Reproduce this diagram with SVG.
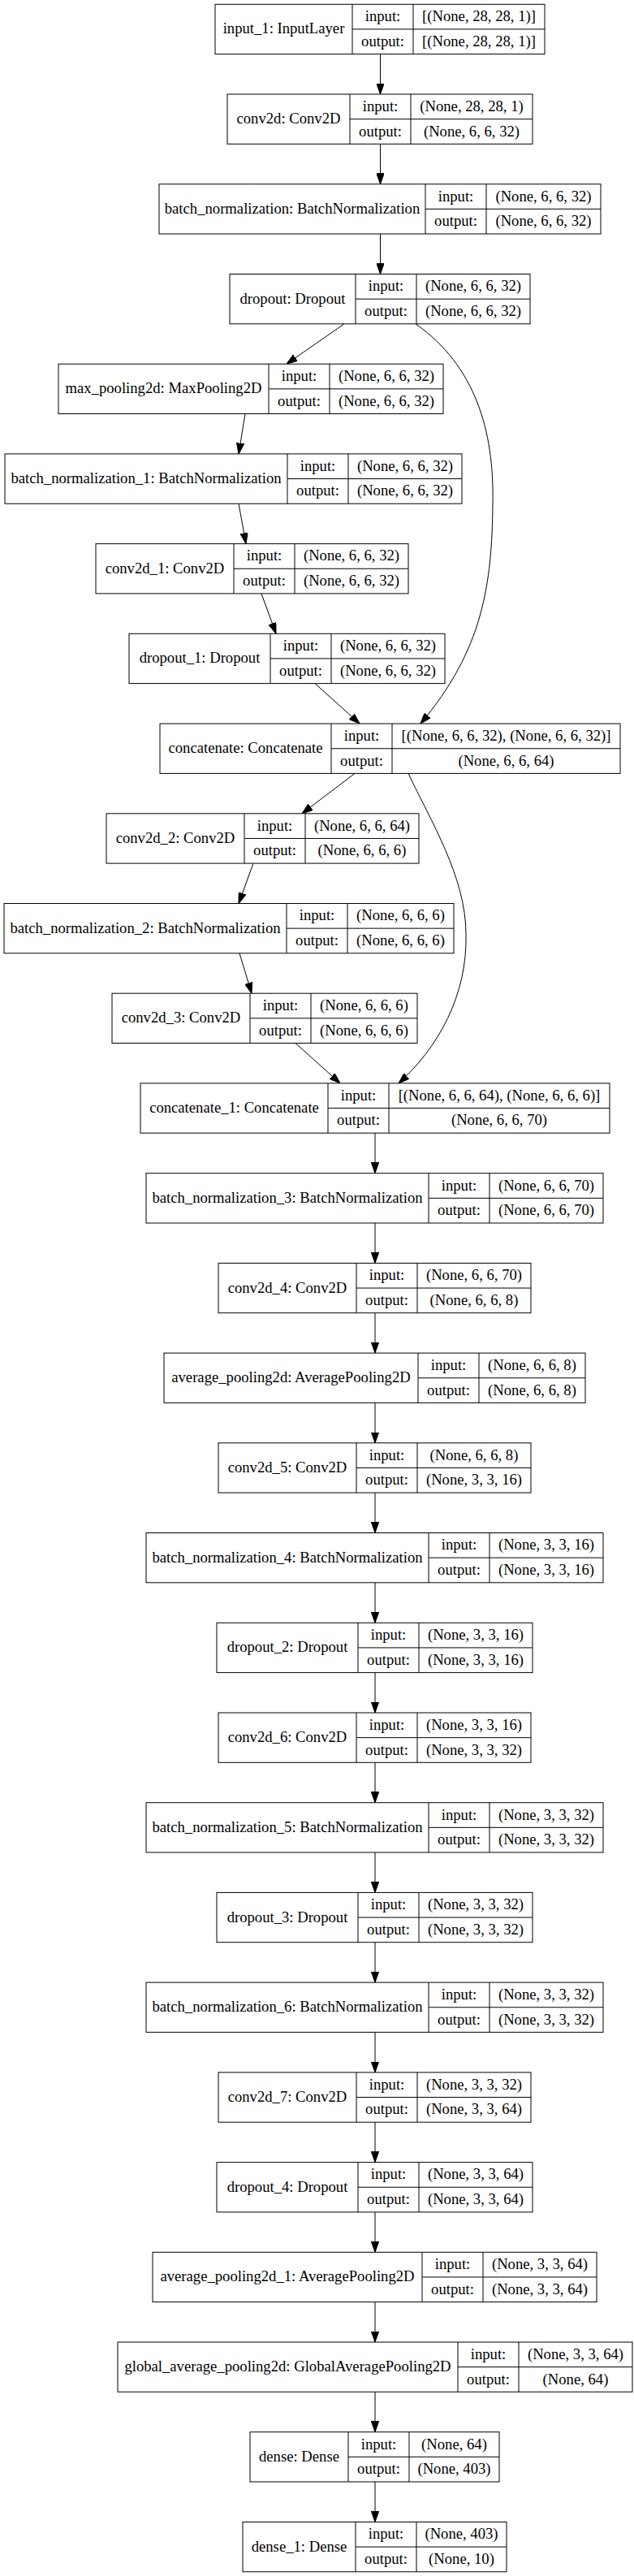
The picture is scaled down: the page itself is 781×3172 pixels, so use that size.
<svg xmlns="http://www.w3.org/2000/svg" width="781" height="3172" viewBox="0 0 781 3172">
<style>
.bg{fill:#fff}
.node rect{fill:#fff;stroke:#000;stroke-width:1}
.node path{fill:none;stroke:#000;stroke-width:1}
text{font-family:"Liberation Serif","Times New Roman",serif;font-size:18.67px;text-anchor:middle;fill:#000}
.edges path{fill:none;stroke:#000;stroke-width:1;marker-end:url(#ah)}
</style>
<defs>
<marker id="ah" viewBox="0 0 13.3 9.34" markerWidth="13.3" markerHeight="9.34" refX="13.3" refY="4.67" orient="auto" markerUnits="userSpaceOnUse">
<path d="M0,0 L13.3,4.67 L0,9.34 Z" fill="#000" stroke="#000" stroke-width="1"/>
</marker>
</defs>
<rect class="bg" x="0" y="0" width="781" height="3172"/>

<g class="edges" id="edges">
<path d="M468.5,66.6 V116"/>
<path d="M468.5,177.3 V226.7"/>
<path d="M468.5,288 V337.5"/>
<path d="M424,398.8 L353,448.2"/>
<path d="M302,509.5 L294,558.9"/>
<path d="M294,620.2 L303,669.6"/>
<path d="M322,730.9 L340,780.3"/>
<path d="M388,841.6 L443,891.1"/>
<path d="M512,398.8 C585,450 609,530 607,620 C606,720 595,800 518,891.1"/>
<path d="M437,952.4 L372,1001.8"/>
<path d="M312,1063.1 L294,1112.5"/>
<path d="M295,1173.8 L310,1223.2"/>
<path d="M364,1284.5 L419,1333.9"/>
<path d="M503,952.4 C530,1010 574,1080 574,1150 C576,1225 540,1290 491,1333.9"/>
<path d="M462,1395.2 V1444.7"/>
<path d="M462,1506 V1555.4"/>
<path d="M462,1616.7 V1666.1"/>
<path d="M462,1727.4 V1776.8"/>
<path d="M462,1838.1 V1887.5"/>
<path d="M462,1948.8 V1998.3"/>
<path d="M462,2059.6 V2109"/>
<path d="M462,2170.3 V2219.7"/>
<path d="M462,2281 V2330.4"/>
<path d="M462,2391.7 V2441.1"/>
<path d="M462,2502.4 V2551.9"/>
<path d="M462,2613.2 V2662.6"/>
<path d="M462,2723.9 V2773.3"/>
<path d="M462,2834.6 V2884"/>
<path d="M462,2945.3 V2994.7"/>
<path d="M462,3056 V3105.5"/>
</g>

<g class="node" id="input_1">
<rect x="265" y="5.3" width="406" height="61.3"/>
<path d="M434,5.3 V66.6 M509,5.3 V66.6 M434,35.95 H671"/>
<text x="349.5" y="41.45">input_1: InputLayer</text>
<text x="471.5" y="26.1">input:</text><text x="590" y="26.1">[(None, 28, 28, 1)]</text>
<text x="471.5" y="56.8">output:</text><text x="590" y="56.8">[(None, 28, 28, 1)]</text>
</g>

<g class="node" id="conv2d">
<rect x="280" y="116" width="376" height="61.3"/>
<path d="M431,116 V177.3 M506,116 V177.3 M431,146.65 H656"/>
<text x="355.5" y="152.15">conv2d: Conv2D</text>
<text x="468.5" y="136.8">input:</text><text x="581" y="136.8">(None, 28, 28, 1)</text>
<text x="468.5" y="167.5">output:</text><text x="581" y="167.5">(None, 6, 6, 32)</text>
</g>

<g class="node" id="batch_normalization">
<rect x="196" y="226.7" width="544" height="61.3"/>
<path d="M524,226.7 V288 M599,226.7 V288 M524,257.35 H740"/>
<text x="360" y="262.85">batch_normalization: BatchNormalization</text>
<text x="561.5" y="247.5">input:</text><text x="669.5" y="247.5">(None, 6, 6, 32)</text>
<text x="561.5" y="278.2">output:</text><text x="669.5" y="278.2">(None, 6, 6, 32)</text>
</g>

<g class="node" id="dropout">
<rect x="283" y="337.5" width="370" height="61.3"/>
<path d="M438,337.5 V398.8 M513,337.5 V398.8 M438,368.15 H653"/>
<text x="360.5" y="373.65">dropout: Dropout</text>
<text x="475.5" y="358.3">input:</text><text x="583" y="358.3">(None, 6, 6, 32)</text>
<text x="475.5" y="389">output:</text><text x="583" y="389">(None, 6, 6, 32)</text>
</g>

<g class="node" id="max_pooling2d">
<rect x="72" y="448.2" width="474" height="61.3"/>
<path d="M331,448.2 V509.5 M406,448.2 V509.5 M331,478.85 H546"/>
<text x="201.5" y="484.35">max_pooling2d: MaxPooling2D</text>
<text x="368.5" y="469">input:</text><text x="476" y="469">(None, 6, 6, 32)</text>
<text x="368.5" y="499.7">output:</text><text x="476" y="499.7">(None, 6, 6, 32)</text>
</g>

<g class="node" id="batch_normalization_1">
<rect x="6" y="558.9" width="563" height="61.3"/>
<path d="M354,558.9 V620.2 M429,558.9 V620.2 M354,589.55 H569"/>
<text x="180" y="595.05">batch_normalization_1: BatchNormalization</text>
<text x="391.5" y="579.7">input:</text><text x="499" y="579.7">(None, 6, 6, 32)</text>
<text x="391.5" y="610.4">output:</text><text x="499" y="610.4">(None, 6, 6, 32)</text>
</g>

<g class="node" id="conv2d_1">
<rect x="118" y="669.6" width="385" height="61.3"/>
<path d="M288,669.6 V730.9 M363,669.6 V730.9 M288,700.25 H503"/>
<text x="203" y="705.75">conv2d_1: Conv2D</text>
<text x="325.5" y="690.4">input:</text><text x="433" y="690.4">(None, 6, 6, 32)</text>
<text x="325.5" y="721.1">output:</text><text x="433" y="721.1">(None, 6, 6, 32)</text>
</g>

<g class="node" id="dropout_1">
<rect x="159" y="780.3" width="389" height="61.3"/>
<path d="M333,780.3 V841.6 M408,780.3 V841.6 M333,810.95 H548"/>
<text x="246" y="816.45">dropout_1: Dropout</text>
<text x="370.5" y="801.1">input:</text><text x="478" y="801.1">(None, 6, 6, 32)</text>
<text x="370.5" y="831.8">output:</text><text x="478" y="831.8">(None, 6, 6, 32)</text>
</g>

<g class="node" id="concatenate">
<rect x="197" y="891.1" width="567" height="61.3"/>
<path d="M408,891.1 V952.4 M483,891.1 V952.4 M408,921.75 H764"/>
<text x="302.5" y="927.25">concatenate: Concatenate</text>
<text x="445.5" y="911.9">input:</text><text x="623.5" y="911.9">[(None, 6, 6, 32), (None, 6, 6, 32)]</text>
<text x="445.5" y="942.6">output:</text><text x="623.5" y="942.6">(None, 6, 6, 64)</text>
</g>

<g class="node" id="conv2d_2">
<rect x="131" y="1001.8" width="385" height="61.3"/>
<path d="M301,1001.8 V1063.1 M376,1001.8 V1063.1 M301,1032.45 H516"/>
<text x="216" y="1037.95">conv2d_2: Conv2D</text>
<text x="338.5" y="1022.6">input:</text><text x="446" y="1022.6">(None, 6, 6, 64)</text>
<text x="338.5" y="1053.3">output:</text><text x="446" y="1053.3">(None, 6, 6, 6)</text>
</g>

<g class="node" id="batch_normalization_2">
<rect x="5" y="1112.5" width="554" height="61.3"/>
<path d="M353,1112.5 V1173.8 M428,1112.5 V1173.8 M353,1143.15 H559"/>
<text x="179" y="1148.65">batch_normalization_2: BatchNormalization</text>
<text x="390.5" y="1133.3">input:</text><text x="493.5" y="1133.3">(None, 6, 6, 6)</text>
<text x="390.5" y="1164">output:</text><text x="493.5" y="1164">(None, 6, 6, 6)</text>
</g>

<g class="node" id="conv2d_3">
<rect x="138" y="1223.2" width="376" height="61.3"/>
<path d="M308,1223.2 V1284.5 M383,1223.2 V1284.5 M308,1253.85 H514"/>
<text x="223" y="1259.35">conv2d_3: Conv2D</text>
<text x="345.5" y="1244">input:</text><text x="448.5" y="1244">(None, 6, 6, 6)</text>
<text x="345.5" y="1274.7">output:</text><text x="448.5" y="1274.7">(None, 6, 6, 6)</text>
</g>

<g class="node" id="concatenate_1">
<rect x="173" y="1333.9" width="578" height="61.3"/>
<path d="M404,1333.9 V1395.2 M479,1333.9 V1395.2 M404,1364.55 H751"/>
<text x="288.5" y="1370.05">concatenate_1: Concatenate</text>
<text x="441.5" y="1354.7">input:</text><text x="615" y="1354.7">[(None, 6, 6, 64), (None, 6, 6, 6)]</text>
<text x="441.5" y="1385.4">output:</text><text x="615" y="1385.4">(None, 6, 6, 70)</text>
</g>

<g class="node" id="batch_normalization_3">
<rect x="180" y="1444.7" width="563" height="61.3"/>
<path d="M528,1444.7 V1506 M603,1444.7 V1506 M528,1475.35 H743"/>
<text x="354" y="1480.85">batch_normalization_3: BatchNormalization</text>
<text x="565.5" y="1465.5">input:</text><text x="673" y="1465.5">(None, 6, 6, 70)</text>
<text x="565.5" y="1496.2">output:</text><text x="673" y="1496.2">(None, 6, 6, 70)</text>
</g>

<g class="node" id="conv2d_4">
<rect x="269" y="1555.4" width="385" height="61.3"/>
<path d="M439,1555.4 V1616.7 M514,1555.4 V1616.7 M439,1586.05 H654"/>
<text x="354" y="1591.55">conv2d_4: Conv2D</text>
<text x="476.5" y="1576.2">input:</text><text x="584" y="1576.2">(None, 6, 6, 70)</text>
<text x="476.5" y="1606.9">output:</text><text x="584" y="1606.9">(None, 6, 6, 8)</text>
</g>

<g class="node" id="average_pooling2d">
<rect x="202" y="1666.1" width="519" height="61.3"/>
<path d="M515,1666.1 V1727.4 M590,1666.1 V1727.4 M515,1696.75 H721"/>
<text x="358.5" y="1702.25">average_pooling2d: AveragePooling2D</text>
<text x="552.5" y="1686.9">input:</text><text x="655.5" y="1686.9">(None, 6, 6, 8)</text>
<text x="552.5" y="1717.6">output:</text><text x="655.5" y="1717.6">(None, 6, 6, 8)</text>
</g>

<g class="node" id="conv2d_5">
<rect x="269" y="1776.8" width="385" height="61.3"/>
<path d="M439,1776.8 V1838.1 M514,1776.8 V1838.1 M439,1807.45 H654"/>
<text x="354" y="1812.95">conv2d_5: Conv2D</text>
<text x="476.5" y="1797.6">input:</text><text x="584" y="1797.6">(None, 6, 6, 8)</text>
<text x="476.5" y="1828.3">output:</text><text x="584" y="1828.3">(None, 3, 3, 16)</text>
</g>

<g class="node" id="batch_normalization_4">
<rect x="180" y="1887.5" width="563" height="61.3"/>
<path d="M528,1887.5 V1948.8 M603,1887.5 V1948.8 M528,1918.15 H743"/>
<text x="354" y="1923.65">batch_normalization_4: BatchNormalization</text>
<text x="565.5" y="1908.3">input:</text><text x="673" y="1908.3">(None, 3, 3, 16)</text>
<text x="565.5" y="1939">output:</text><text x="673" y="1939">(None, 3, 3, 16)</text>
</g>

<g class="node" id="dropout_2">
<rect x="267" y="1998.3" width="389" height="61.3"/>
<path d="M441,1998.3 V2059.6 M516,1998.3 V2059.6 M441,2028.95 H656"/>
<text x="354" y="2034.45">dropout_2: Dropout</text>
<text x="478.5" y="2019.1">input:</text><text x="586" y="2019.1">(None, 3, 3, 16)</text>
<text x="478.5" y="2049.8">output:</text><text x="586" y="2049.8">(None, 3, 3, 16)</text>
</g>

<g class="node" id="conv2d_6">
<rect x="269" y="2109" width="385" height="61.3"/>
<path d="M439,2109 V2170.3 M514,2109 V2170.3 M439,2139.65 H654"/>
<text x="354" y="2145.15">conv2d_6: Conv2D</text>
<text x="476.5" y="2129.8">input:</text><text x="584" y="2129.8">(None, 3, 3, 16)</text>
<text x="476.5" y="2160.5">output:</text><text x="584" y="2160.5">(None, 3, 3, 32)</text>
</g>

<g class="node" id="batch_normalization_5">
<rect x="180" y="2219.7" width="563" height="61.3"/>
<path d="M528,2219.7 V2281 M603,2219.7 V2281 M528,2250.35 H743"/>
<text x="354" y="2255.85">batch_normalization_5: BatchNormalization</text>
<text x="565.5" y="2240.5">input:</text><text x="673" y="2240.5">(None, 3, 3, 32)</text>
<text x="565.5" y="2271.2">output:</text><text x="673" y="2271.2">(None, 3, 3, 32)</text>
</g>

<g class="node" id="dropout_3">
<rect x="267" y="2330.4" width="389" height="61.3"/>
<path d="M441,2330.4 V2391.7 M516,2330.4 V2391.7 M441,2361.05 H656"/>
<text x="354" y="2366.55">dropout_3: Dropout</text>
<text x="478.5" y="2351.2">input:</text><text x="586" y="2351.2">(None, 3, 3, 32)</text>
<text x="478.5" y="2381.9">output:</text><text x="586" y="2381.9">(None, 3, 3, 32)</text>
</g>

<g class="node" id="batch_normalization_6">
<rect x="180" y="2441.1" width="563" height="61.3"/>
<path d="M528,2441.1 V2502.4 M603,2441.1 V2502.4 M528,2471.75 H743"/>
<text x="354" y="2477.25">batch_normalization_6: BatchNormalization</text>
<text x="565.5" y="2461.9">input:</text><text x="673" y="2461.9">(None, 3, 3, 32)</text>
<text x="565.5" y="2492.6">output:</text><text x="673" y="2492.6">(None, 3, 3, 32)</text>
</g>

<g class="node" id="conv2d_7">
<rect x="269" y="2551.9" width="385" height="61.3"/>
<path d="M439,2551.9 V2613.2 M514,2551.9 V2613.2 M439,2582.55 H654"/>
<text x="354" y="2588.05">conv2d_7: Conv2D</text>
<text x="476.5" y="2572.7">input:</text><text x="584" y="2572.7">(None, 3, 3, 32)</text>
<text x="476.5" y="2603.4">output:</text><text x="584" y="2603.4">(None, 3, 3, 64)</text>
</g>

<g class="node" id="dropout_4">
<rect x="267" y="2662.6" width="389" height="61.3"/>
<path d="M441,2662.6 V2723.9 M516,2662.6 V2723.9 M441,2693.25 H656"/>
<text x="354" y="2698.75">dropout_4: Dropout</text>
<text x="478.5" y="2683.4">input:</text><text x="586" y="2683.4">(None, 3, 3, 64)</text>
<text x="478.5" y="2714.1">output:</text><text x="586" y="2714.1">(None, 3, 3, 64)</text>
</g>

<g class="node" id="average_pooling2d_1">
<rect x="188" y="2773.3" width="547" height="61.3"/>
<path d="M520,2773.3 V2834.6 M595,2773.3 V2834.6 M520,2803.95 H735"/>
<text x="354" y="2809.45">average_pooling2d_1: AveragePooling2D</text>
<text x="557.5" y="2794.1">input:</text><text x="665" y="2794.1">(None, 3, 3, 64)</text>
<text x="557.5" y="2824.8">output:</text><text x="665" y="2824.8">(None, 3, 3, 64)</text>
</g>

<g class="node" id="global_average_pooling2d">
<rect x="145" y="2884" width="634" height="61.3"/>
<path d="M564,2884 V2945.3 M639,2884 V2945.3 M564,2914.65 H779"/>
<text x="354.5" y="2920.15">global_average_pooling2d: GlobalAveragePooling2D</text>
<text x="601.5" y="2904.8">input:</text><text x="709" y="2904.8">(None, 3, 3, 64)</text>
<text x="601.5" y="2935.5">output:</text><text x="709" y="2935.5">(None, 64)</text>
</g>

<g class="node" id="dense">
<rect x="308" y="2994.7" width="307" height="61.3"/>
<path d="M429,2994.7 V3056 M504,2994.7 V3056 M429,3025.35 H615"/>
<text x="368.5" y="3030.85">dense: Dense</text>
<text x="466.5" y="3015.5">input:</text><text x="559.5" y="3015.5">(None, 64)</text>
<text x="466.5" y="3046.2">output:</text><text x="559.5" y="3046.2">(None, 403)</text>
</g>

<g class="node" id="dense_1">
<rect x="299" y="3105.5" width="325" height="61.3"/>
<path d="M438,3105.5 V3166.8 M513,3105.5 V3166.8 M438,3136.15 H624"/>
<text x="368.5" y="3141.65">dense_1: Dense</text>
<text x="475.5" y="3126.3">input:</text><text x="568.5" y="3126.3">(None, 403)</text>
<text x="475.5" y="3157">output:</text><text x="568.5" y="3157">(None, 10)</text>
</g>
</svg>
